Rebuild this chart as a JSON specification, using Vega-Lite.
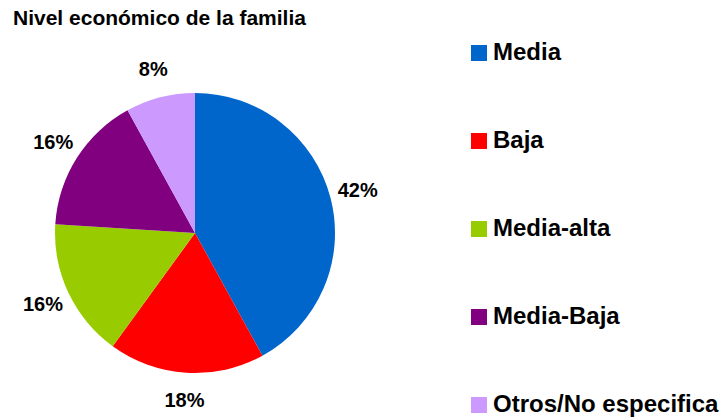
{
  "$schema": "https://vega.github.io/schema/vega-lite/v6.json",
  "autosize": {"type": "none"},
  "padding": {"left": 0, "top": 30, "right": 338, "bottom": 0},
  "width": 390,
  "height": 406,
  "background": "white",
  "title": {
    "text": "Nivel económico de la familia",
    "anchor": "start",
    "frame": "group",
    "dx": 13,
    "offset": 1,
    "font": "Liberation Sans",
    "fontSize": 21,
    "fontWeight": "bold",
    "color": "#000000"
  },
  "data": {
    "values": [
      {"nivel": "Media", "pct": 0.42, "orden": 1},
      {"nivel": "Baja", "pct": 0.18, "orden": 2},
      {"nivel": "Media-alta", "pct": 0.16, "orden": 3},
      {"nivel": "Media-Baja", "pct": 0.16, "orden": 4},
      {"nivel": "Otros/No especifica", "pct": 0.08, "orden": 5}
    ]
  },
  "encoding": {
    "theta": {"field": "pct", "type": "quantitative", "stack": true},
    "order": {"field": "orden", "type": "quantitative"}
  },
  "layer": [
    {
      "mark": {"type": "arc", "radius": 140},
      "encoding": {
        "color": {
          "field": "nivel",
          "type": "nominal",
          "sort": ["Media", "Baja", "Media-alta", "Media-Baja", "Otros/No especifica"],
          "scale": {
            "domain": ["Media", "Baja", "Media-alta", "Media-Baja", "Otros/No especifica"],
            "range": ["#0066CC", "#FF0000", "#99CC00", "#800080", "#CC99FF"]
          },
          "legend": {
            "title": null,
            "orient": "none",
            "legendX": 467,
            "legendY": 11,
            "padding": 0,
            "symbolType": "square",
            "symbolSize": 256,
            "symbolStrokeWidth": 0,
            "symbolOpacity": 1,
            "labelOffset": 2,
            "labelFont": "Liberation Sans",
            "labelFontSize": 24,
            "labelFontWeight": "bold",
            "labelColor": "#000000",
            "labelLimit": 400,
            "rowPadding": 64
          }
        }
      }
    },
    {
      "mark": {
        "type": "text",
        "radius": 168,
        "font": "Liberation Sans",
        "fontSize": 20,
        "fontWeight": "bold",
        "color": "#000000",
        "align": "center",
        "baseline": "middle"
      },
      "encoding": {
        "text": {"field": "pct", "type": "quantitative", "format": ".0%"}
      }
    }
  ],
  "config": {"view": {"stroke": null}}
}
